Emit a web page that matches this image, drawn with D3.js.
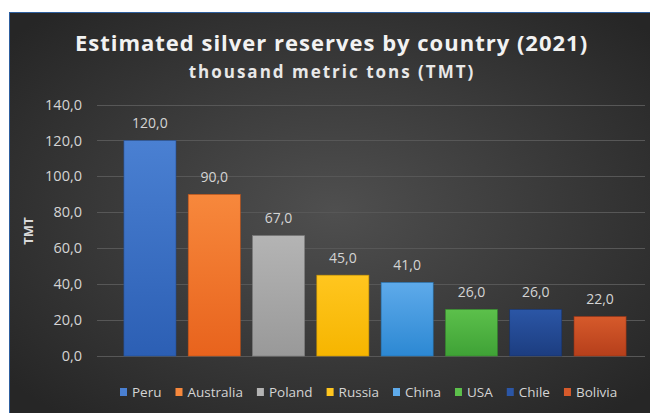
<!DOCTYPE html>
<html>
<head>
<meta charset="utf-8">
<script src="https://cdn.jsdelivr.net/npm/d3@7"></script>
<style>
  body { margin: 0; background: #ffffff; }
  svg { display: block; font-family: "Open Sans", sans-serif; }
</style>
</head>
<body>
<div id="chart"></div>
<script>
// Data
var countries = ['Peru', 'Australia', 'Poland', 'Russia', 'China', 'USA', 'Chile', 'Bolivia'];
var reserves = [120, 90, 67, 45, 41, 26, 26, 22];
var yTicks = [0, 20, 40, 60, 80, 100, 120, 140];
var colorsTop = ['#4a80d2', '#f7883c', '#b4b4b4', '#ffc61f', '#5eaaea', '#5cc04b', '#2b56a6', '#d65a2b'];
var colorsBottom = ['#2c5fb4', '#e8631d', '#999999', '#f6b500', '#2c88d3', '#3fa236', '#1c3d80', '#b63f1b'];

var width = 650, height = 413;
var fmt = function(v) { return d3.format('.1f')(v).replace('.', ','); };

var svg = d3.select('#chart').append('svg')
  .attr('width', width)
  .attr('height', height);

var defs = svg.append('defs');

// background gradient
var bg = defs.append('radialGradient')
  .attr('id', 'bg')
  .attr('cx', '50%').attr('cy', '48%').attr('r', '65%');
bg.append('stop').attr('offset', '0%').attr('stop-color', '#4f4f4f');
bg.append('stop').attr('offset', '100%').attr('stop-color', '#262626');

// bar gradients
countries.forEach(function(c, i) {
  var g = defs.append('linearGradient')
    .attr('id', 'bar' + i)
    .attr('x1', 0).attr('y1', 0).attr('x2', 0).attr('y2', 1);
  g.append('stop').attr('offset', '0%').attr('stop-color', colorsTop[i]);
  g.append('stop').attr('offset', '100%').attr('stop-color', colorsBottom[i]);
});

// chart box with thin blue border
svg.append('rect')
  .attr('x', 9.5).attr('y', 12.5)
  .attr('width', width).attr('height', height)
  .attr('fill', 'url(#bg)')
  .attr('stroke', '#2e5f9e')
  .attr('stroke-width', 1);

// Scales
var x = d3.scaleBand()
  .domain(countries)
  .range([117.8, 632.2])
  .paddingInner(0.19)
  .paddingOuter(0.095);

var y = d3.scaleLinear()
  .domain([0, 140])
  .range([356, 104.5]);

// Gridlines
svg.append('g')
  .selectAll('line')
  .data(yTicks)
  .enter()
  .append('line')
  .attr('x1', 97)
  .attr('x2', 645)
  .attr('y1', function(d) { return Math.round(y(d)) + 0.5; })
  .attr('y2', function(d) { return Math.round(y(d)) + 0.5; })
  .style('stroke', '#575757')
  .style('stroke-width', 1);

// Y axis tick labels
var yAxis = d3.axisLeft(y)
  .tickValues(yTicks)
  .tickFormat(fmt)
  .tickSize(0)
  .tickPadding(0);

var yg = svg.append('g')
  .attr('transform', 'translate(82,0)')
  .call(yAxis);
yg.select('.domain').remove();
yg.selectAll('text')
  .style('font-family', '"Open Sans", sans-serif')
  .style('font-size', '14.5px')
  .attr('fill', '#d4d4d4');

// Y axis title
svg.append('text')
  .attr('transform', 'translate(33,231) rotate(-90)')
  .attr('text-anchor', 'middle')
  .style('font-size', '13px')
  .style('font-weight', 'bold')
  .attr('fill', '#d9d9d9')
  .text('TMT');

// Bars
svg.append('g')
  .selectAll('rect')
  .data(reserves)
  .enter()
  .append('rect')
  .attr('x', function(d, i) { return x(countries[i]); })
  .attr('y', function(d) { return y(d); })
  .attr('width', x.bandwidth())
  .attr('height', function(d) { return y(0) - y(d); })
  .attr('fill', function(d, i) { return 'url(#bar' + i + ')'; })
  .attr('stroke', function(d, i) { return d3.color(colorsBottom[i]).darker(0.6); })
  .attr('stroke-width', 0.6);

// Data labels
svg.append('g')
  .selectAll('text')
  .data(reserves)
  .enter()
  .append('text')
  .attr('x', function(d, i) { return x(countries[i]) + x.bandwidth() / 2; })
  .attr('y', function(d) { return y(d) - 12.5; })
  .attr('text-anchor', 'middle')
  .style('font-size', '14px')
  .attr('fill', '#d4d4d4')
  .text(fmt);

// Title
svg.append('text')
  .attr('x', 331.5)
  .attr('y', 51)
  .attr('text-anchor', 'middle')
  .style('font-size', '22px')
  .style('font-weight', 'bold')
  .style('letter-spacing', '1px')
  .attr('fill', '#f2f2f2')
  .text('Estimated silver reserves by country (2021)');

svg.append('text')
  .attr('x', 332)
  .attr('y', 78)
  .attr('text-anchor', 'middle')
  .style('font-size', '17px')
  .style('font-weight', 'bold')
  .style('letter-spacing', '2px')
  .attr('fill', '#e8e8e8')
  .text('thousand metric tons (TMT)');

// Legend
var legend = svg.append('g').attr('transform', 'translate(120,0)');
var lx = 0;
countries.forEach(function(c, i) {
  legend.append('rect')
    .attr('x', lx).attr('y', 388)
    .attr('width', 7).attr('height', 8)
    .attr('fill', colorsTop[i]);
  var t = legend.append('text')
    .attr('x', lx + 12)
    .attr('y', 397)
    .style('font-size', '13.5px')
    .attr('fill', '#d4d4d4')
    .text(c);
  lx += 12 + t.node().getComputedTextLength() + 14;
});
</script>
</body>
</html>
